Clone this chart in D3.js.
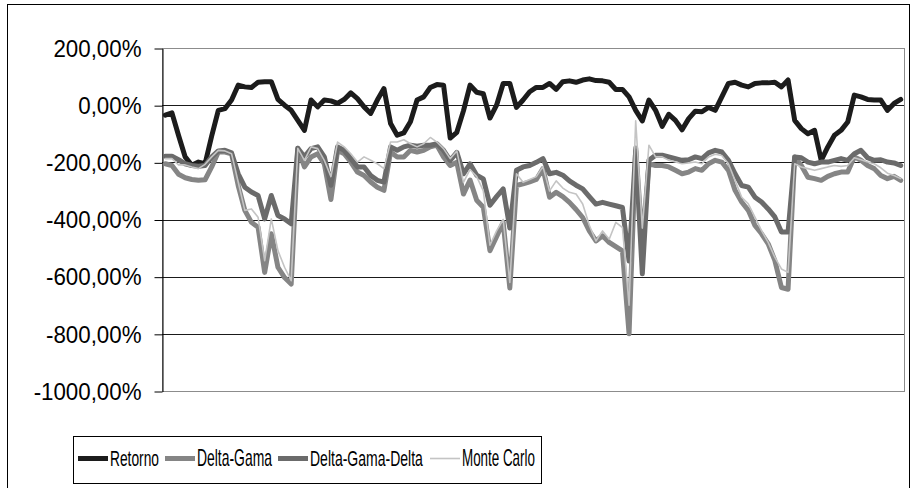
<!DOCTYPE html>
<html lang="pt">
<head>
<meta charset="UTF-8">
<title>Retorno x VaR</title>
<script src="https://d3js.org/d3.v7.min.js"></script>
<style>
  body { margin: 0; background: #fff; }
  svg { display: block; font-family: "Liberation Sans", Arial, sans-serif; }
</style>
</head>
<body>

<svg width="911" height="488"></svg>

<script>
// series values (in %)
const retorno = [-35, -27, -106, -181, -210, -199, -205, -108, -18, -12, 18, 70, 64, 62, 80, 82, 82, 20, 0, -18,
  -53, -88, 18, -6, 18, 15, 6, 20, 43, 23, -6, -29, 18, 58, -64, -105, -97, -58, 18, 29,
  62, 72, 70, -115, -95, -20, 70, 45, 40, -45, 0, 76, 76, -8, 18, 47, 62, 62, 76, 55,
  82, 85, 80, 88, 92, 86, 85, 80, 55, 55, 29, -18, -55, 18, -18, -74, -32, -53, -86, -47,
  -21, -23, -8, -18, 29, 76, 80, 70, 64, 76, 78, 78, 80, 64, 88, -53, -82, -100, -88, -193,
  -146, -105, -88, -59, 35, 29, 20, 18, 18, -18, 6, 20];

const deltaGama = [-205, -211, -242, -254, -260, -263, -261, -216, -164, -164, -170, -281, -368, -410, -427, -585, -450, -567, -603, -626,
  -151, -216, -181, -170, -205, -330, -158, -170, -199, -234, -246, -269, -287, -298, -164, -181, -181, -158, -164, -158,
  -146, -140, -181, -211, -200, -311, -262, -333, -357, -509, -460, -410, -640, -281, -275, -268, -260, -222, -322, -305,
  -320, -340, -365, -393, -440, -475, -457, -480, -495, -510, -800, -150, -480, -205, -211, -211, -216, -228, -240, -234,
  -222, -228, -205, -193, -199, -228, -298, -339, -368, -421, -450, -485, -543, -638, -644, -181, -211, -252, -257, -263,
  -249, -240, -234, -234, -181, -193, -211, -222, -246, -257, -249, -263];

const deltaGamaDelta = [-179, -179, -191, -205, -211, -214, -211, -181, -160, -158, -167, -240, -287, -304, -316, -398, -316, -386, -398, -415,
  -151, -181, -152, -146, -181, -280, -146, -158, -187, -216, -216, -246, -263, -269, -146, -158, -146, -140, -144, -140,
  -140, -135, -158, -193, -165, -240, -205, -245, -258, -350, -320, -293, -430, -228, -216, -211, -200, -187, -240, -235,
  -245, -265, -280, -293, -320, -346, -340, -346, -352, -358, -545, -160, -590, -193, -175, -175, -181, -187, -193, -191,
  -181, -187, -167, -158, -164, -193, -240, -281, -287, -322, -339, -363, -391, -444, -444, -181, -184, -199, -205, -199,
  -199, -193, -187, -193, -170, -158, -184, -193, -191, -199, -202, -211];

const monteCarlo = [-187, -187, -209, -209, -216, -222, -207, -181, -158, -160, -170, -269, -368, -363, -392, -544, -398, -509, -567, -614,
  -151, -193, -146, -152, -193, -250, -129, -146, -170, -199, -181, -193, -205, -222, -129, -129, -121, -135, -146, -135,
  -113, -129, -152, -187, -160, -270, -225, -250, -300, -490, -440, -400, -620, -240, -270, -260, -250, -215, -300, -265,
  -290, -305, -311, -346, -420, -475, -440, -469, -410, -428, -700, -55, -430, -140, -181, -181, -193, -199, -205, -202,
  -199, -205, -181, -172, -176, -205, -263, -322, -345, -392, -439, -480, -532, -573, -585, -205, -216, -222, -228, -222,
  -216, -211, -214, -211, -184, -191, -199, -205, -219, -238, -246, -257];

const seriesNames = ["Retorno", "Delta-Gama", "Delta-Gama-Delta", "Monte Carlo"];
const yTicks = [200, 0, -200, -400, -600, -800, -1000];

// series styles
const colors = ["#1c1c1c", "#858585", "#6b6b6b", "#c4c4c4"];
const widths = [5, 5, 5, 1.6];

const svg = d3.select("svg");

// outer chart frame
svg.append("rect")
   .attr("x", 7.5).attr("y", 4.5)
   .attr("width", 902).attr("height", 500)
   .attr("fill", "none")
   .attr("stroke", "#000");

const plot = { left: 162, right: 904, top: 48, bottom: 391 };

const idx = d3.range(retorno.length);
const x = d3.scalePoint().domain(idx).range([plot.left, plot.right]).padding(0.5);
const y = d3.scaleLinear().domain([-1000, 200]).range([plot.bottom, plot.top]);

// plot area border (gray)
svg.append("rect")
   .attr("x", plot.left + 0.5).attr("y", plot.top + 0.5)
   .attr("width", plot.right - plot.left).attr("height", plot.bottom - plot.top)
   .attr("fill", "none")
   .attr("stroke", "#8c8c8c");

// gridlines
svg.append("g")
   .selectAll("line")
   .data(yTicks.slice(1, -1))
   .join("line")
   .attr("x1", plot.left).attr("x2", plot.right)
   .attr("y1", d => Math.round(y(d)) + 0.5)
   .attr("y2", d => Math.round(y(d)) + 0.5)
   .attr("stroke", "#1a1a1a")
   .attr("stroke-width", 1);

// y axis
const fmt = d => d.toFixed(2).replace(".", ",") + "%";
const yAxis = svg.append("g")
   .attr("transform", `translate(${plot.left + 0.5},0.5)`)
   .call(d3.axisLeft(y).tickValues(yTicks).tickSize(8).tickSizeOuter(0).tickFormat(fmt));

yAxis.select(".domain").attr("stroke", "#000");
yAxis.selectAll(".tick line").attr("stroke", "#000");
yAxis.selectAll(".tick text")
   .attr("x", -21 / 0.93)
   .attr("transform", "scale(0.93,1)")
   .attr("fill", "#000")
   .style("font-size", "24px")
   .style("font-family", "'Liberation Sans', Arial, sans-serif");

// lines
const line = d3.line()
   .x((d, i) => x(i))
   .y(d => y(d));

const allSeries = [retorno, deltaGama, deltaGamaDelta, monteCarlo];

svg.append("g")
   .selectAll("path")
   .data(allSeries)
   .join("path")
   .attr("d", line)
   .attr("fill", "none")
   .attr("stroke", (d, i) => colors[i])
   .attr("stroke-width", (d, i) => widths[i])
   .attr("stroke-linejoin", "round")
   .attr("stroke-linecap", "round");

// legend
const legend = svg.append("g");
legend.append("rect")
   .attr("x", 73.5).attr("y", 436.5)
   .attr("width", 468).attr("height", 47)
   .attr("fill", "#fff")
   .attr("stroke", "#000");

const legendX = [78, 165, 278, 430];
const legendTextW = [49, 75, 113, 73];

const item = legend.selectAll("g.item")
   .data(seriesNames)
   .join("g")
   .attr("class", "item")
   .attr("transform", (d, i) => `translate(${legendX[i]},0)`);

item.append("line")
   .attr("x1", 0).attr("x2", 30)
   .attr("y1", 458.5).attr("y2", 458.5)
   .attr("stroke", (d, i) => colors[i])
   .attr("stroke-width", (d, i) => widths[i]);

// condensed legend text: squeeze each label to its width in the picture
item.append("text")
   .style("font-size", "23px")
   .text(d => d)
   .attr("transform", function (d, i) {
       const w = this.getComputedTextLength();
       return `translate(32,466) scale(${legendTextW[i] / w},1)`;
   });
</script>

</body>
</html>
